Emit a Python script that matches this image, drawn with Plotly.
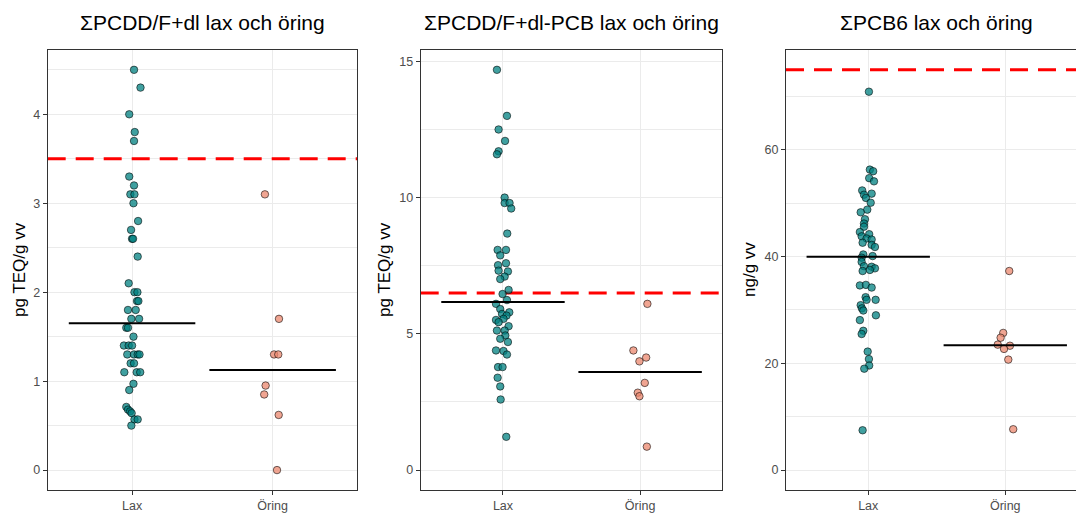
import numpy as np
import plotly.graph_objects as go

# ---------------- data ----------------
categories = ["Lax", "Öring"]

titles = ["ΣPCDD/F+dl lax och öring",
          "ΣPCDD/F+dl-PCB lax och öring",
          "ΣPCB6 lax och öring"]
y_titles = ["pg TEQ/g vv", "pg TEQ/g vv", "ng/g vv"]
limit_values = [3.5, 6.5, 75]
y_dticks = [1, 5, 20]

# Panel 1: ΣPCDD/F+dl
p1_lax = [4.5, 4.3, 4.0, 3.8, 3.7, 3.3, 3.2, 3.1, 3.1, 3.0, 2.8, 2.7, 2.6, 2.6,
          2.4, 2.1, 2.0, 2.0, 1.9, 1.9, 1.8, 1.8, 1.7, 1.7, 1.6, 1.6, 1.5, 1.4,
          1.4, 1.4, 1.3, 1.3, 1.3, 1.3, 1.2, 1.2, 1.1, 1.1, 1.1, 0.97, 0.9,
          0.71, 0.68, 0.66, 0.64, 0.57, 0.57, 0.5]
p1_lax_jitter = [0.014, 0.06, -0.02, 0.019, 0.014, -0.02, 0.014, -0.012, 0.017,
                 0.01, 0.043, -0.007, 0.0, 0.007, 0.04, -0.024, 0.017, 0.038,
                 0.035, 0.045, -0.029, 0.026, -0.005, 0.05, -0.041, -0.029,
                 0.01, -0.058, -0.024, 0.0, -0.034, 0.014, 0.04, 0.053, -0.01,
                 0.014, -0.055, 0.033, 0.058, 0.01, -0.02, -0.041, -0.029,
                 -0.014, -0.003, 0.017, 0.04, -0.005]
p1_oring = [3.1, 1.7, 1.3, 1.3, 0.95, 0.85, 0.62, 0.0]
p1_oring_jitter = [-0.055, 0.045, 0.01, 0.04, -0.05, -0.06, 0.043, 0.031]

# Panel 2: ΣPCDD/F+dl-PCB
p2_lax = [14.69, 13.0, 12.5, 12.08, 11.7, 11.59, 10.0, 9.8, 9.8, 9.6, 8.68,
          8.08, 8.08, 7.88, 7.59, 7.52, 7.32, 7.29, 7.1, 7.01, 6.61, 6.46,
          6.24, 6.1, 5.91, 5.79, 5.73, 5.67, 5.55, 5.51, 5.43, 5.28, 5.12,
          5.12, 4.94, 4.82, 4.7, 4.39, 4.37, 4.24, 3.78, 3.78, 3.39, 3.07,
          2.59, 1.22]
p2_lax_jitter = [-0.044, 0.029, -0.032, 0.015, -0.032, -0.044, 0.012, 0.012,
                 0.048, 0.06, 0.031, -0.039, 0.022, -0.02, 0.022, -0.036,
                 -0.032, 0.036, 0.012, -0.02, 0.041, -0.003, 0.029, -0.051,
                 -0.02, 0.046, -0.007, 0.026, 0.004, -0.051, -0.032, 0.041,
                 -0.044, 0.012, 0.017, -0.02, 0.036, -0.051, 0.004, 0.029,
                 -0.036, -0.003, -0.039, -0.02, -0.017, 0.024]
p2_oring = [6.1, 4.39, 4.13, 3.99, 3.2, 2.84, 2.71, 0.86]
p2_oring_jitter = [0.053, -0.049, 0.044, -0.005, 0.034, -0.017, -0.005, 0.049]

# Panel 3: ΣPCB6
p3_lax = [70.9, 56.3, 56.0, 54.7, 54.1, 52.4, 51.8, 51.6, 51.0, 50.1, 48.8,
          48.3, 47.0, 46.2, 45.6, 44.6, 44.2, 43.8, 43.4, 43.2, 42.6, 42.2,
          41.8, 40.4, 40.1, 39.8, 39.0, 38.2, 38.1, 37.8, 37.3, 37.5, 34.6,
          34.7, 34.2, 32.4, 31.9, 31.9, 30.9, 30.3, 29.9, 29.0, 28.1, 26.1,
          25.5, 22.2, 20.8, 19.6, 19.0, 7.46]
p3_lax_jitter = [0.005, 0.012, 0.036, 0.007, 0.042, -0.044, 0.025, -0.031,
                 -0.017, 0.018, -0.007, -0.055, -0.024, -0.031, -0.031, -0.061,
                 0.007, -0.048, -0.012, 0.025, -0.041, 0.025, 0.049, -0.036,
                 0.032, -0.048, -0.048, -0.031, 0.025, 0.049, -0.041, 0.012,
                 -0.061, -0.017, 0.025, -0.019, -0.012, 0.054, -0.055, -0.046,
                 -0.036, 0.056, -0.061, -0.036, -0.048, -0.004, 0.005, 0.007,
                 -0.029, -0.041]
p3_oring = [37.3, 25.7, 24.8, 23.5, 23.3, 22.7, 20.7, 7.65]
p3_oring_jitter = [0.029, -0.015, -0.034, -0.055, 0.034, -0.009, 0.022, 0.058]

panels = [
    ((p1_lax, p1_lax_jitter), (p1_oring, p1_oring_jitter)),
    ((p2_lax, p2_lax_jitter), (p2_oring, p2_oring_jitter)),
    ((p3_lax, p3_lax_jitter), (p3_oring, p3_oring_jitter)),
]

# ---------------- styling / layout ----------------
W, H = 1076, 513
FONT = "Liberation Sans, Arial, sans-serif"
cat_colors = ["rgba(0,128,128,0.75)", "rgba(235,135,110,0.75)"]
grid_col = "#EBEBEB"
axis_col = "#333333"
tick_col = "#4D4D4D"

x_px = [(47.7, 357.0), (420.7, 722.4), (786.0, 1087.5)]
y_top_px, y_bot_px = 50.0, 492.0
ydom = [1 - y_bot_px / H, 1 - y_top_px / H]

fig = go.Figure()
layout = dict(width=W, height=H, margin=dict(l=0, r=0, t=0, b=0),
              paper_bgcolor="white", plot_bgcolor="white",
              showlegend=False, font=dict(family=FONT), annotations=[])

for i, groups in enumerate(panels):
    n = "" if i == 0 else str(i + 1)
    xa, ya = "x" + n, "y" + n
    lim = limit_values[i]

    # threshold line (under points)
    fig.add_trace(go.Scatter(x=[0.4, 2.6], y=[lim, lim], mode="lines",
                             line=dict(color="#FF0000", width=3, dash="18px,10px"),
                             xaxis=xa, yaxis=ya, hoverinfo="skip"))
    all_vals = []
    for ci, (vals, jit) in enumerate(groups):
        c = ci + 1
        all_vals += vals
        fig.add_trace(go.Scatter(
            x=[c + j for j in jit], y=vals, mode="markers",
            marker=dict(size=7.5, color=cat_colors[ci],
                        line=dict(color="rgba(0,0,0,0.8)", width=0.7)),
            xaxis=xa, yaxis=ya, name=categories[ci]))
    for ci, (vals, jit) in enumerate(groups):
        c = ci + 1
        med = float(np.median(vals))
        fig.add_trace(go.Scatter(x=[c - 0.45, c + 0.45], y=[med, med], mode="lines",
                                 line=dict(color="black", width=2),
                                 xaxis=xa, yaxis=ya, hoverinfo="skip"))

    lo = min(0.0, min(all_vals))
    hi = max(max(all_vals), lim)
    pad = 0.05 * (hi - lo)

    x0p, x1p = x_px[i]
    unit = (x1p - x0p) / 2.2
    xmax = 0.4 + (min(x1p, W) - x0p) / unit
    dom = [x0p / W, min(x1p, W) / W]

    layout["xaxis" + n] = dict(
        domain=dom, range=[0.4, xmax], anchor=ya,
        tickmode="array", tickvals=[1, 2], ticktext=categories,
        showgrid=True, gridcolor=grid_col, gridwidth=1.1, zeroline=False,
        showline=True, linecolor=axis_col, linewidth=1, mirror=True,
        ticks="outside", ticklen=4, tickcolor=axis_col, tickwidth=1,
        tickfont=dict(size=12.5, color=tick_col, family=FONT))
    d = y_dticks[i]
    layout["yaxis" + n] = dict(
        domain=ydom, range=[lo - pad, hi + pad], anchor=xa,
        tick0=0, dtick=d,
        showgrid=True, gridcolor=grid_col, gridwidth=1.1, zeroline=False,
        minor=dict(tick0=0, dtick=d / 2, showgrid=True, gridcolor=grid_col,
                   gridwidth=0.55, ticks=""),
        showline=True, linecolor=axis_col, linewidth=1, mirror=(i < 2),
        ticks="outside", ticklen=4, tickcolor=axis_col, tickwidth=1,
        tickfont=dict(size=12.5, color=tick_col, family=FONT))

    layout["annotations"].append(dict(
        text=titles[i], xref="paper", yref="paper",
        x=(x0p + x1p) / 2 / W, y=1 - 23 / H, xanchor="center", yanchor="middle",
        showarrow=False, font=dict(size=21, color="black", family=FONT)))

y_title_x = [20, 385, 750]
for i in range(3):
    layout["annotations"].append(dict(
        text=y_titles[i], xref="paper", yref="paper",
        x=y_title_x[i] / W, y=1 - 271 / H, xanchor="center", yanchor="middle",
        textangle=-90, showarrow=False,
        font=dict(size=17, color="black", family=FONT)))

fig.update_layout(**layout)
fig.write_html("out.html",
               config={"displayModeBar": False},
               post_script="document.body.style.margin='0';document.body.style.overflow='hidden';")
